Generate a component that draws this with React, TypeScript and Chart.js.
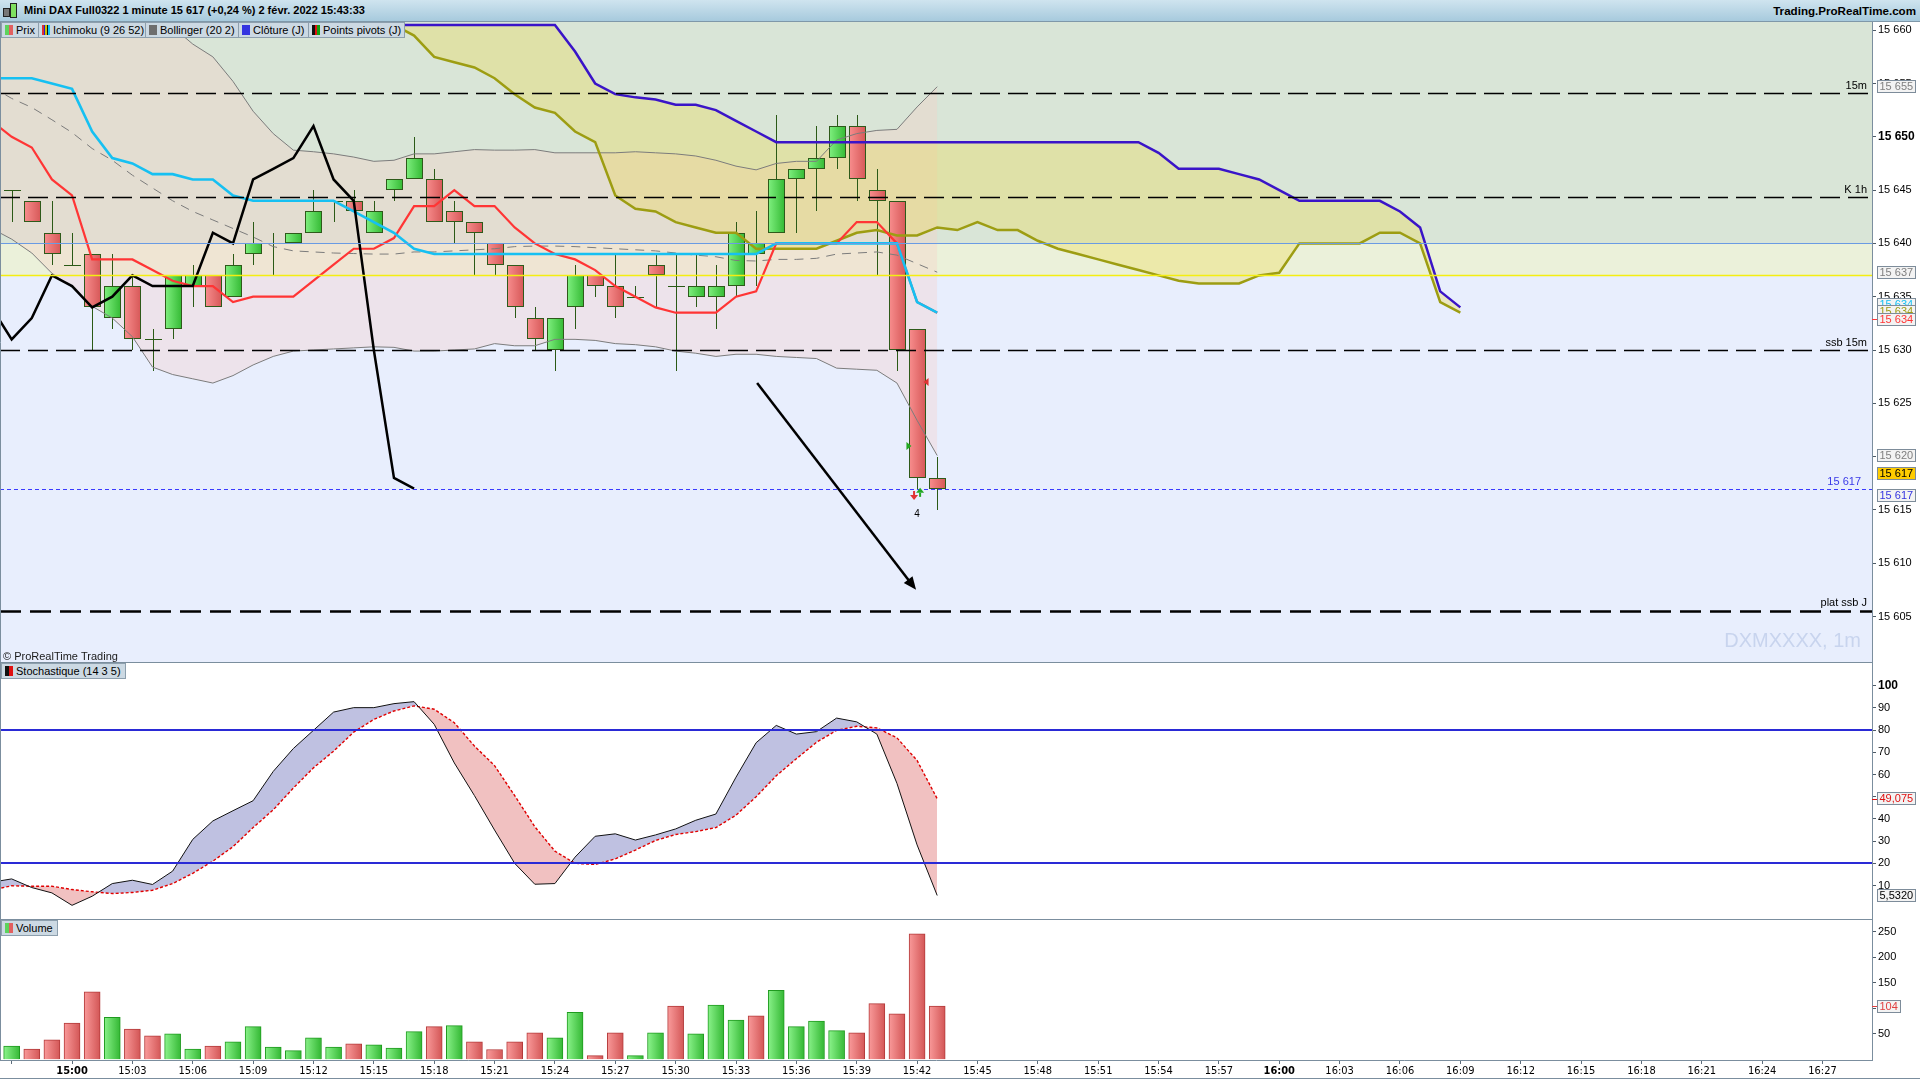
import React, { useEffect, useRef } from 'react';
import { Chart, registerables } from 'chart.js';

Chart.register(...registerables);

// ---------------- DATA ----------------
const BAR_TIMES = ['14:57','14:58','14:59','15:00','15:01','15:02','15:03','15:04','15:05','15:06','15:07','15:08','15:09','15:10','15:11','15:12','15:13','15:14','15:15','15:16','15:17','15:18','15:19','15:20','15:21','15:22','15:23','15:24','15:25','15:26','15:27','15:28','15:29','15:30','15:31','15:32','15:33','15:34','15:35','15:36','15:37','15:38','15:39','15:40','15:41','15:42','15:43'];
const OPEN = [15645,15644,15641,15638,15639,15633,15636,15631,15632,15636,15637,15635,15639,15640,15640,15641,15644,15644,15641,15645,15646,15646,15643,15642,15640,15638,15633,15630,15634,15637,15636,15635,15638,15636,15635,15635,15636,15639,15641,15646,15647,15648,15651,15645,15644,15632,15618];
const HIGH = [15645,15644,15644,15641,15639,15639,15637,15632,15637,15638,15637,15639,15642,15641,15641,15645,15644,15645,15644,15646,15650,15647,15644,15642,15640,15638,15634,15633,15638,15637,15639,15636,15639,15639,15639,15638,15642,15643,15652,15647,15651,15652,15652,15647,15644,15632,15620];
const LOW = [15642,15642,15638,15638,15630,15632,15630,15628,15631,15634,15634,15635,15638,15637,15640,15641,15642,15643,15641,15644,15646,15642,15640,15637,15637,15633,15630,15628,15632,15635,15633,15635,15634,15628,15634,15632,15635,15636,15641,15641,15643,15647,15644,15637,15628,15617,15615];
const CLOSE = [15645,15642,15639,15638,15634,15636,15631,15631,15637,15637,15634,15638,15640,15640,15641,15643,15644,15643,15643,15646,15648,15642,15642,15641,15638,15634,15631,15633,15637,15636,15634,15635,15637,15636,15636,15636,15641,15640,15646,15647,15648,15651,15646,15644,15630,15618,15617];
const VOLUME = [26,20,38,71,132,82,59,46,50,20,26,34,64,24,17,42,24,30,28,22,54,64,66,34,19,34,52,42,92,7,52,7,52,104,50,106,77,85,135,64,75,56,52,109,89,246,104];
const VOLUME_UP = [1,0,0,0,0,1,0,0,1,1,0,1,1,1,1,1,1,0,1,1,1,0,1,0,0,0,0,1,1,0,0,1,1,0,1,1,1,0,1,1,1,1,0,0,0,0,0];

const LINE_TIMES = ['14:56', ...BAR_TIMES];
const TENKAN = [15651.5,15650,15649,15646,15644.5,15638.5,15638.5,15638.5,15637.5,15636.5,15636,15636,15634.5,15635,15635,15635,15636.5,15638,15639.5,15639.5,15640.5,15643.5,15643.5,15645,15643.5,15643.5,15641.5,15640,15639,15638.5,15637.5,15636,15635,15634,15633.5,15633.5,15633.5,15635,15635.5,15640,15640,15640,15640,15642,15642,15640,15634.5,15633.5];
const KIJUN = [15655.5,15655.5,15655.5,15655,15654.5,15650.5,15648,15647.5,15646.5,15646.5,15646,15646,15644.5,15644,15644,15644,15644,15644,15643,15642,15641,15639.5,
  15639,15639,15639,15639,15639,15639,15639,15639,15639,15639,15639,15639,15639,15639,15639,15639,15639,
  15640,15640,15640,15640,15640,15640,15640,15634.5,15633.5];
const BB_UPPER = [15668,15666.8,15666.4,15666,15664.9,15663.7,15662.6,15661.6,15662,15660.3,15658.7,15657.5,15655.2,15652.4,15650.3,15648.75,15648.6,15648.4,15648.1,15647.7,15647.8,15648.4,15648.4,15648.6,15648.8,15648.75,15648.75,15648.8,15648.5,15648.5,15648.5,15648.5,15648.6,15648.5,15648.4,15648.2,15647.8,15647.25,15646.9,15647.5,15647.7,15647.7,15649.7,15650.3,15650.6,15650.7,15652.8,15654.7];
const BB_MIDDLE = [15654.7,15653.6,15652.75,15651.6,15650.4,15648.9,15647.8,15646.4,15645.2,15644,15643,15642.2,15641.4,15640.6,15639.7,15639.3,15639.2,15639.1,15639.05,15639,15639,15639.2,15639.2,15639.3,15639.4,15639.5,15639.7,15639.75,15639.75,15639.7,15639.6,15639.5,15639.4,15639.3,15639.1,15638.9,15638.75,15638.4,15638.35,15638.5,15638.5,15638.6,15639,15639.1,15639.2,15638.9,15638.1,15637.3];
const BB_LOWER = [15641.4,15640.4,15639.1,15637.2,15635.9,15634.1,15633,15631.25,15628.4,15627.7,15627.3,15626.9,15627.6,15628.6,15629.4,15629.9,15630,15630.1,15630.2,15630.3,15630.25,15629.9,15629.9,15630,15630.1,15630.6,15630.4,15630.4,15631,15631,15630.9,15630.6,15630.5,15630.3,15629.9,15629.7,15629.4,15629.6,15629.6,15629.4,15629.3,15629.2,15628.3,15628.2,15628.1,15626.9,15623.4,15620.1];
const STOCH_K = [11.5,13,9.1,6.7,1.1,5.2,10.9,12.4,10.5,16.5,30.8,39.1,43.7,48.2,61.4,71.7,79.9,88.1,90.1,90.1,91.9,92.8,82.6,65.2,50.5,35,20,10.6,10.9,22.8,32.2,33.3,30.5,32.8,35.5,39.4,42.2,58.8,74.3,82.1,78.2,79.3,85.4,83.7,78.2,56,28.3,5.532];
const STOCH_D = [8,9.9,9.7,9.7,8.2,7.2,6.4,6.9,7.9,10.9,15.5,21,27.5,36.1,44.1,53.9,63,70.5,79.1,84.8,88.6,90.9,89.4,83.3,72.8,64,50.5,36.5,25.5,20,19.5,22,26,30.3,33,34.3,36.1,41.7,50,59.4,67.1,74.5,79.9,81.7,81,76.5,66.3,49.075];

const CLOUD_TIMES = ['15:15','15:16','15:17','15:18','15:19','15:20','15:21','15:22','15:23','15:24','15:25','15:26','15:27','15:28','15:29','15:30','15:31','15:32','15:33','15:34','15:35','15:36','15:37','15:38','15:39','15:40','15:41','15:42','15:43','15:44','15:45','15:46','15:47','15:48','15:49','15:50','15:51','15:52','15:53','15:54','15:55','15:56','15:57','15:58','15:59','16:00','16:01','16:02','16:03','16:04','16:05','16:06','16:07','16:08','16:09'];
const SENKOU_A = [15662,15660.5,15659.5,15657.5,15657,15656.5,15655.5,15654,15652.75,15652.25,15650.5,15649.5,15644.5,15643.25,15643,15642,15641.5,15641,15641,15639.5,15639.5,15639.5,15639.5,15640.25,15641,15641.25,15640.75,15640.75,15641.5,15641.25,15642,15641.25,15641.25,15640.25,15639.5,15639,15638.5,15638,15637.5,15637,15636.5,15636.25,15636.25,15636.25,15637,15637.25,15640,15640,15640,15640,15641,15641,15640,15634.5,15633.5];
const SENKOU_B = [15660.5,15660.5,15660.5,15660.5,15660.5,15660.5,15660.5,15660.5,15660.5,15660.5,15658,15655,15654,15653.7,15653.5,15653,15653,15652.5,15651.5,15650.5,
  15649.5,15649.5,15649.5,15649.5,15649.5,15649.5,15649.5,15649.5,15649.5,15649.5,15649.5,15649.5,15649.5,15649.5,15649.5,15649.5,15649.5,15649.5,15649.5,
  15648.5,15647,15647,15647,15646.5,15646,15645,15644,15644,15644,15644,15644,15643,15641.5,15635.5,15634];
const CHIKOU_SHIFT = 26;

const PRICE_TICKS = [15605,15610,15615,15620,15625,15630,15635,15640,15645,15650,15655,15660];
const STOCH_TICKS = [10,20,30,40,50,60,70,80,90,100];
const VOLUME_TICKS = [50,100,150,200,250];
const TIME_TICKS = ['14:57','15:00','15:03','15:06','15:09','15:12','15:15','15:18','15:21','15:24','15:27','15:30','15:33','15:36','15:39','15:42','15:45','15:48','15:51','15:54','15:57','16:00','16:03','16:06','16:09','16:12','16:15','16:18','16:21','16:24','16:27'];

const LEVELS = [
  { label: '15m', value: 15654.1, thick: false },
  { label: 'K 1h', value: 15644.4, thick: false },
  { label: 'ssb 15m', value: 15630, thick: false },
  { label: 'plat ssb J', value: 15605.5, thick: true },
];
const DAILY_CLOSE = 15640;
const PIVOT = 15637;
const LAST_PRICE = 15617;
const STOCH_BANDS = [80, 20];
const ARROW = { from: { t: 34.05, p: 15626.9 }, to: { t: 41.95, p: 15607.5 } };
const SIGNALS = [
  { t: 42.47, p: 15627, shape: 'left', color: '#e03434' },
  { t: 41.57, p: 15621, shape: 'right', color: '#22a822' },
  { t: 41.85, p: 15616.4, shape: 'down', color: '#e03434' },
  { t: 42.15, p: 15616.6, shape: 'up', color: '#22a822' },
];
const SIGNAL_COUNT = { t: 42.0, p: 15614.6, text: '4' };

// ---------------- STYLE ----------------
const FONT = "'Liberation Sans', Arial, sans-serif";
const NARROW = "'Liberation Sans Narrow', 'DejaVu Sans Condensed', 'Liberation Sans', sans-serif";
const X_MIN = -3.58, X_MAX = 89.46;
const PRICE_MIN = 15600.64, PRICE_MAX = 15660.77;
const STOCH_MIN = -5.5, STOCH_MAX = 110.2;
const VOL_MIN = -1.5, VOL_MAX = 273;
const AXIS_W = 48;
const FRAME = '#7b8e9e';
const ZONE_HIGH = '#d9e5d7', ZONE_MID = '#ebf1da', ZONE_LOW = '#e8eefd';
const BB_FILL = 'rgba(245,205,200,0.34)';
const CLOUD_FILL = 'rgba(240,214,60,0.30)';
const TENKAN_C = '#ff3535', KIJUN_C = '#16c0f2', SSA_C = '#9d9d12', SSB_C = '#3a14c8', BB_C = '#7c7c7c';
const LAVENDER = '#bfc1e1', PINK = '#f1c1c1';

const toMin = (s: string) => { const [h, m] = s.split(':').map(Number); return (h - 15) * 60 + m; };
const pts = (times: string[], vals: number[]) => times.map((t, i) => ({ x: toMin(t), y: vals[i] }));
const fmtPrice = (v: number) => { const r = Math.round(v); return `${Math.floor(r / 1000)} ${String(r % 1000).padStart(3, '0')}`; };
const lastOf = (a: number[]) => a[a.length - 1];
const ok = (...v: number[]) => v.every((n) => Number.isFinite(n));

function xScale(display: boolean): any {
  return {
    type: 'linear', min: X_MIN, max: X_MAX, display, offset: false,
    afterBuildTicks: (s: any) => { s.ticks = TIME_TICKS.map((t) => ({ value: toMin(t) })); },
    afterFit: (s: any) => { s.height = display ? 20 : 0; s.paddingLeft = 0; s.paddingRight = 0; },
    grid: { display: true, drawOnChartArea: false, drawTicks: true, tickLength: 4, color: '#5d6d7b', offset: false },
    border: { display: true, color: FRAME },
    ticks: {
      autoSkip: false, maxRotation: 0, minRotation: 0, padding: 1, color: '#000',
      font: (c: any) => ({ family: NARROW, size: 11, weight: c.tick && c.tick.value % 60 === 0 ? 'bold' : 'normal' }),
      callback: (_v: any, i: number) => (i === 0 ? '' : TIME_TICKS[i]),
    },
  };
}

function yScale(min: number, max: number, ticks: number[], fmt: (v: number) => string, boldAt: (v: number) => boolean): any {
  return {
    type: 'linear', position: 'right', min, max,
    afterBuildTicks: (s: any) => { s.ticks = ticks.map((v) => ({ value: v })); },
    afterFit: (s: any) => { s.width = AXIS_W; s.paddingTop = 0; s.paddingBottom = 0; },
    grid: { drawOnChartArea: false, drawTicks: true, tickLength: 4, color: '#4d5a66' },
    border: { display: true, color: FRAME },
    ticks: {
      autoSkip: false, padding: 2, color: '#000',
      font: (c: any) => {
        const b = c.tick && boldAt(c.tick.value);
        return { family: FONT, size: b ? 12 : 11, weight: b ? 'bold' : 'normal' };
      },
      callback: (v: any) => fmt(Number(v)),
    },
  };
}

function baseOptions(y: any, xDisplay: boolean): any {
  return {
    responsive: false, maintainAspectRatio: false, animation: false, devicePixelRatio: 1, events: [],
    layout: { padding: 0 },
    plugins: {
      legend: { display: false }, tooltip: { enabled: false },
      filler: { drawTime: 'beforeDatasetsDraw', propagate: false },
    },
    elements: { point: { radius: 0 }, line: { tension: 0 } },
    scales: { x: xScale(xDisplay), y },
  };
}

function axisBox(ctx: any, chart: any, yPix: number, text: string, color: string, bg = '#f3f3f3', tick?: string) {
  const a = chart.chartArea;
  if (!ok(yPix)) return;
  ctx.save();
  ctx.font = `11px ${FONT}`;
  const w = Math.ceil(ctx.measureText(text).width) + 5;
  const x0 = a.right + 5;
  const h = 13;
  const top = Math.round(yPix - h / 2);
  if (tick) {
    ctx.strokeStyle = tick; ctx.lineWidth = 1;
    ctx.beginPath(); ctx.moveTo(a.right, Math.round(yPix) + 0.5); ctx.lineTo(x0, Math.round(yPix) + 0.5); ctx.stroke();
  }
  ctx.fillStyle = bg; ctx.fillRect(x0, top, w, h);
  ctx.strokeStyle = '#7d8c9a'; ctx.lineWidth = 1; ctx.strokeRect(x0 + 0.5, top + 0.5, w - 1, h - 1);
  ctx.fillStyle = color; ctx.textAlign = 'left'; ctx.textBaseline = 'middle';
  ctx.fillText(text, x0 + 2.5, top + h / 2 + 0.5);
  ctx.restore();
}

function bottomBorder(ctx: any, chart: any) {
  const a = chart.chartArea;
  ctx.save(); ctx.strokeStyle = FRAME; ctx.lineWidth = 1;
  ctx.beginPath(); ctx.moveTo(0, a.bottom - 0.5); ctx.lineTo(a.right, a.bottom - 0.5);
  ctx.moveTo(0.5, 0); ctx.lineTo(0.5, a.bottom); ctx.stroke();
  ctx.restore();
}

const pricePlugin: any = {
  id: 'priceDecor',
  beforeDraw(chart: any) {
    const { ctx, chartArea: a, scales: { y } } = chart;
    const yc = y.getPixelForValue(DAILY_CLOSE), yp = y.getPixelForValue(PIVOT);
    if (!ok(yc, yp)) return;
    ctx.save();
    ctx.fillStyle = ZONE_HIGH; ctx.fillRect(a.left, a.top, a.width, yc - a.top);
    ctx.fillStyle = ZONE_MID; ctx.fillRect(a.left, yc, a.width, yp - yc);
    ctx.fillStyle = ZONE_LOW; ctx.fillRect(a.left, yp, a.width, a.bottom - yp);
    ctx.restore();
  },
  beforeDatasetsDraw(chart: any) {
    const { ctx, chartArea: a, scales: { x, y } } = chart;
    ctx.save();
    ctx.beginPath(); ctx.rect(a.left, a.top, a.width, a.height); ctx.clip();
    ctx.font = `20px ${FONT}`; ctx.fillStyle = '#c8d4ee'; ctx.textAlign = 'right'; ctx.textBaseline = 'alphabetic';
    ctx.fillText('DXMXXXX, 1m', a.right - 11, a.bottom - 16);
    ctx.font = `11px ${FONT}`; ctx.fillStyle = '#1a1a1a'; ctx.textAlign = 'left';
    ctx.fillText('\u00A9 ProRealTime Trading', a.left + 3, a.bottom - 3);
    BAR_TIMES.forEach((t, i) => {
      const cx = Math.round(x.getPixelForValue(toMin(t)));
      const yo = y.getPixelForValue(OPEN[i]), yc = y.getPixelForValue(CLOSE[i]);
      const yh = y.getPixelForValue(HIGH[i]), yl = y.getPixelForValue(LOW[i]);
      if (!ok(cx, yo, yc, yh, yl)) return;
      ctx.strokeStyle = '#2b5a16'; ctx.lineWidth = 1;
      ctx.beginPath(); ctx.moveTo(cx + 0.5, Math.round(yh)); ctx.lineTo(cx + 0.5, Math.round(yl)); ctx.stroke();
      const left = cx - 8, w = 17;
      const top = Math.round(Math.min(yo, yc)), bot = Math.round(Math.max(yo, yc));
      if (bot - top < 2) {
        ctx.beginPath(); ctx.moveTo(left, top + 0.5); ctx.lineTo(left + w, top + 0.5); ctx.stroke();
        return;
      }
      const up = CLOSE[i] > OPEN[i];
      const g = ctx.createLinearGradient(left, 0, left + w, 0);
      if (up) { g.addColorStop(0, '#80f080'); g.addColorStop(1, '#33b933'); }
      else { g.addColorStop(0, '#f88e8e'); g.addColorStop(1, '#d65757'); }
      ctx.fillStyle = g; ctx.fillRect(left, top, w, bot - top);
      ctx.strokeStyle = '#2e5a1a'; ctx.strokeRect(left + 0.5, top + 0.5, w - 1, bot - top - 1);
    });
    ctx.restore();
  },
  afterDatasetsDraw(chart: any) {
    const { ctx, chartArea: a, scales: { x, y } } = chart;
    ctx.save();
    ctx.beginPath(); ctx.rect(a.left, a.top, a.width, a.height); ctx.clip();
    const hline = (v: number, color: string, width: number, dash: number[], x1 = a.right) => {
      const py = Math.round(y.getPixelForValue(v)) + (width % 2 ? 0.5 : 0);
      ctx.strokeStyle = color; ctx.lineWidth = width; ctx.setLineDash(dash);
      ctx.beginPath(); ctx.moveTo(a.left, py); ctx.lineTo(x1, py); ctx.stroke();
      ctx.setLineDash([]);
      return py;
    };
    hline(DAILY_CLOSE, '#6a9be3', 1, []);
    hline(PIVOT, '#f4ee10', 1.5, []);
    ctx.font = `11px ${FONT}`; ctx.textAlign = 'right'; ctx.textBaseline = 'bottom';
    LEVELS.forEach((l) => {
      const py = hline(l.value, '#000', l.thick ? 2.5 : 1.3, l.thick ? [21, 9] : [20, 8], l.thick ? a.right : a.right - 4);
      ctx.fillStyle = '#000';
      ctx.fillText(l.label, a.right - 5, py - (l.thick ? 3 : 2));
    });
    const pl = hline(LAST_PRICE, '#3a3aff', 1, [4, 3]);
    ctx.fillStyle = '#3a3ae8';
    ctx.fillText(fmtPrice(LAST_PRICE), a.right - 11, pl - 2);
    const x0 = x.getPixelForValue(ARROW.from.t), y0 = y.getPixelForValue(ARROW.from.p);
    const x1 = x.getPixelForValue(ARROW.to.t), y1 = y.getPixelForValue(ARROW.to.p);
    if (ok(x0, y0, x1, y1)) {
      const ang = Math.atan2(y1 - y0, x1 - x0);
      ctx.strokeStyle = '#000'; ctx.lineWidth = 2.5;
      ctx.beginPath(); ctx.moveTo(x0, y0); ctx.lineTo(x1 - 8 * Math.cos(ang), y1 - 8 * Math.sin(ang)); ctx.stroke();
      ctx.fillStyle = '#000';
      ctx.beginPath(); ctx.moveTo(x1, y1);
      ctx.lineTo(x1 - 13 * Math.cos(ang) + 5.5 * Math.sin(ang), y1 - 13 * Math.sin(ang) - 5.5 * Math.cos(ang));
      ctx.lineTo(x1 - 13 * Math.cos(ang) - 5.5 * Math.sin(ang), y1 - 13 * Math.sin(ang) + 5.5 * Math.cos(ang));
      ctx.closePath(); ctx.fill();
    }
    SIGNALS.forEach((s) => {
      const px = x.getPixelForValue(s.t), py = y.getPixelForValue(s.p);
      if (!ok(px, py)) return;
      ctx.fillStyle = s.color; ctx.strokeStyle = s.color; ctx.lineWidth = 2;
      ctx.beginPath();
      if (s.shape === 'left') { ctx.moveTo(px - 3, py); ctx.lineTo(px + 2, py - 4); ctx.lineTo(px + 2, py + 4); }
      else if (s.shape === 'right') { ctx.moveTo(px + 3, py); ctx.lineTo(px - 2, py - 4); ctx.lineTo(px - 2, py + 4); }
      else if (s.shape === 'down') { ctx.moveTo(px, py + 5); ctx.lineTo(px - 4, py); ctx.lineTo(px + 4, py); }
      else { ctx.moveTo(px, py - 5); ctx.lineTo(px - 4, py); ctx.lineTo(px + 4, py); }
      ctx.closePath(); ctx.fill();
      ctx.beginPath();
      if (s.shape === 'down') { ctx.moveTo(px, py); ctx.lineTo(px, py - 4); ctx.stroke(); }
      if (s.shape === 'up') { ctx.moveTo(px, py); ctx.lineTo(px, py + 4); ctx.stroke(); }
    });
    ctx.fillStyle = '#000'; ctx.textAlign = 'center'; ctx.textBaseline = 'middle'; ctx.font = `10px ${FONT}`;
    ctx.fillText(SIGNAL_COUNT.text, x.getPixelForValue(SIGNAL_COUNT.t), y.getPixelForValue(SIGNAL_COUNT.p));
    ctx.restore();
  },
  afterDraw(chart: any) {
    const { ctx, scales: { y } } = chart;
    const py = (v: number) => y.getPixelForValue(v);
    axisBox(ctx, chart, py(lastOf(BB_UPPER)), fmtPrice(lastOf(BB_UPPER)), '#7f7f7f');
    axisBox(ctx, chart, py(lastOf(BB_MIDDLE)), fmtPrice(lastOf(BB_MIDDLE)), '#7f7f7f');
    axisBox(ctx, chart, py(lastOf(KIJUN)) - 8, fmtPrice(lastOf(KIJUN)), KIJUN_C);
    axisBox(ctx, chart, py(lastOf(SENKOU_A)) - 1, fmtPrice(lastOf(SENKOU_A)), SSA_C);
    axisBox(ctx, chart, py(lastOf(TENKAN)) + 6.5, fmtPrice(lastOf(TENKAN)), TENKAN_C, '#f3f3f3', TENKAN_C);
    axisBox(ctx, chart, py(lastOf(BB_LOWER)), fmtPrice(lastOf(BB_LOWER)), '#7f7f7f');
    axisBox(ctx, chart, py(lastOf(CLOSE)) - 15.5, fmtPrice(lastOf(CLOSE)), '#000', '#ffcc00');
    axisBox(ctx, chart, py(LAST_PRICE) + 6.5, fmtPrice(LAST_PRICE), '#3535e0');
    bottomBorder(ctx, chart);
  },
};

const stochPlugin: any = {
  id: 'stochDecor',
  afterDatasetsDraw(chart: any) {
    const { ctx, chartArea: a, scales: { y } } = chart;
    ctx.save(); ctx.strokeStyle = '#2a2ad6'; ctx.lineWidth = 2;
    STOCH_BANDS.forEach((v) => {
      const py = Math.round(y.getPixelForValue(v));
      if (!ok(py)) return;
      ctx.beginPath(); ctx.moveTo(a.left, py); ctx.lineTo(a.right, py); ctx.stroke();
    });
    ctx.restore();
  },
  afterDraw(chart: any) {
    const { ctx, scales: { y } } = chart;
    const d = lastOf(STOCH_D), k = lastOf(STOCH_K);
    axisBox(ctx, chart, y.getPixelForValue(d), d.toFixed(3).replace('.', ','), '#e01010', '#f3f3f3', '#e01010');
    axisBox(ctx, chart, y.getPixelForValue(k), k.toFixed(4).replace('.', ','), '#000');
    bottomBorder(ctx, chart);
  },
};

const volPlugin: any = {
  id: 'volDecor',
  afterDraw(chart: any) {
    const { ctx, scales: { y } } = chart;
    const v = lastOf(VOLUME);
    axisBox(ctx, chart, y.getPixelForValue(v), String(v), '#e04040', '#f3f3f3', '#e04040');
    const a = chart.chartArea;
    ctx.save(); ctx.strokeStyle = FRAME; ctx.lineWidth = 1;
    ctx.beginPath(); ctx.moveTo(0.5, 0); ctx.lineTo(0.5, a.bottom);
    ctx.moveTo(0, chart.height - 1.5); ctx.lineTo(chart.width, chart.height - 1.5); ctx.stroke();
    ctx.restore();
  },
};

const volColor = (c: any) => {
  const i = c.dataIndex;
  const up = VOLUME_UP[i] === 1;
  const flat = up ? '#5fd85f' : '#e57373';
  if (c.type !== 'data' || i == null) return flat;
  const chart = c.chart; const xs = chart && chart.scales && chart.scales.x;
  if (!xs) return flat;
  const cx = Math.round(xs.getPixelForValue(toMin(BAR_TIMES[i])));
  if (!ok(cx)) return flat;
  const g = chart.ctx.createLinearGradient(cx - 8, 0, cx + 8, 0);
  if (up) { g.addColorStop(0, '#8af28a'); g.addColorStop(1, '#34b834'); }
  else { g.addColorStop(0, '#f99a9a'); g.addColorStop(1, '#d35656'); }
  return g;
};

function line(data: any[], color: string, width: number, order: number, extra: any = {}) {
  return { data, borderColor: color, borderWidth: width, order, pointRadius: 0, fill: false, clip: 0, tension: 0, ...extra };
}

export default function App() {
  const priceRef = useRef<HTMLCanvasElement>(null);
  const stochRef = useRef<HTMLCanvasElement>(null);
  const volRef = useRef<HTMLCanvasElement>(null);

  useEffect(() => {
    const charts: any[] = [];
    const chikou = BAR_TIMES.map((t, i) => ({ x: toMin(t) - CHIKOU_SHIFT, y: CLOSE[i] }));
    charts.push(new Chart(priceRef.current as any, {
      type: 'line',
      data: {
        datasets: [
          line(chikou, '#000', 2.5, 0),
          line(pts(LINE_TIMES, KIJUN), KIJUN_C, 2.6, 1),
          line(pts(LINE_TIMES, TENKAN), TENKAN_C, 2.2, 2),
          line(pts(CLOUD_TIMES, SENKOU_B), SSB_C, 2.5, 3),
          line(pts(CLOUD_TIMES, SENKOU_A), SSA_C, 2.5, 4, { fill: { target: 3, above: CLOUD_FILL, below: CLOUD_FILL } }),
          line(pts(LINE_TIMES, BB_UPPER), BB_C, 1, 5, { fill: { target: 7, above: BB_FILL, below: BB_FILL } }),
          line(pts(LINE_TIMES, BB_MIDDLE), BB_C, 1, 6, { borderDash: [9, 7] }),
          line(pts(LINE_TIMES, BB_LOWER), BB_C, 1, 7),
        ],
      },
      options: baseOptions(yScale(PRICE_MIN, PRICE_MAX, PRICE_TICKS, fmtPrice, (v) => v % 50 === 0), false),
      plugins: [pricePlugin],
    } as any));

    charts.push(new Chart(stochRef.current as any, {
      type: 'line',
      data: {
        datasets: [
          line(pts(LINE_TIMES, STOCH_K), '#111', 1, 0, { fill: { target: 1, above: LAVENDER, below: PINK } }),
          line(pts(LINE_TIMES, STOCH_D), '#e00000', 1.4, 1, { borderDash: [3, 2] }),
        ],
      },
      options: baseOptions(yScale(STOCH_MIN, STOCH_MAX, STOCH_TICKS, (v) => String(v), (v) => v === 100), false),
      plugins: [stochPlugin],
    } as any));

    charts.push(new Chart(volRef.current as any, {
      type: 'bar',
      data: {
        datasets: [{
          data: pts(BAR_TIMES, VOLUME),
          backgroundColor: volColor,
          borderColor: (c: any) => (VOLUME_UP[c.dataIndex] === 1 ? '#1f9a1f' : '#b33a3a'),
          borderWidth: 1, barThickness: 16, borderSkipped: 'bottom', grouped: false,
        }],
      },
      options: baseOptions(yScale(VOL_MIN, VOL_MAX, VOLUME_TICKS, (v) => String(v), () => false), true),
      plugins: [volPlugin],
    } as any));

    return () => { charts.forEach((c) => c.destroy()); };
  }, []);

  const legendBox = (w: number, icon: string, text: string) => (
    <div key={text} style={{
      width: w, height: 16, boxSizing: 'border-box', border: '1px solid #8d9fad', background: '#ccd9e3',
      display: 'flex', alignItems: 'center', paddingLeft: 3, marginRight: -1, fontFamily: FONT, fontSize: 11,
      color: '#000', whiteSpace: 'nowrap', overflow: 'hidden',
    }}>
      <span style={{ display: 'inline-block', width: 8, height: 10, background: icon, marginRight: 3, flex: 'none' }} />
      {text}
    </div>
  );

  return (
    <div style={{ position: 'fixed', left: 0, top: 0, width: 1920, height: 1080, background: '#fff', overflow: 'hidden', fontFamily: FONT }}>
      <div style={{ position: 'absolute', left: 0, top: 0, width: 1920, height: 22, boxSizing: 'border-box', background: 'linear-gradient(#cfe4ef, #a7cadd)', borderBottom: '1px solid #7f98a9' }}>
        <span style={{ position: 'absolute', left: 3, top: 8, width: 5, height: 7, border: '1px solid #222', background: '#777' }} />
        <span style={{ position: 'absolute', left: 10, top: 3, width: 5, height: 13, border: '1px solid #222', background: '#7fe060' }} />
        <span style={{ position: 'absolute', left: 24, top: 4, fontSize: 11, fontWeight: 'bold', lineHeight: '13px', color: '#000' }}>Mini DAX Full0322 1 minute 15 617 (+0,24 %) 2 févr. 2022 15:43:33</span>
        <span style={{ position: 'absolute', right: 4, top: 4, fontSize: 11.6, fontWeight: 'bold', lineHeight: '13px', color: '#000' }}>Trading.ProRealTime.com</span>
      </div>
      <canvas ref={priceRef} width={1920} height={641} style={{ position: 'absolute', left: 0, top: 22, display: 'block' }} />
      <canvas ref={stochRef} width={1920} height={257} style={{ position: 'absolute', left: 0, top: 663, display: 'block' }} />
      <canvas ref={volRef} width={1920} height={160} style={{ position: 'absolute', left: 0, top: 920, display: 'block' }} />
      <div style={{ position: 'absolute', left: 1, top: 22, display: 'flex' }}>
        {legendBox(38, 'linear-gradient(90deg,#5dd35d 50%,#e26060 50%)', 'Prix')}
        {legendBox(108, 'linear-gradient(90deg,#e03030 20%,#2020d0 20% 40%,#c8c000 40% 60%,#101010 60% 80%,#16c0f2 80%)', 'Ichimoku (9 26 52)')}
        {legendBox(94, '#6e6e6e', 'Bollinger (20 2)')}
        {legendBox(71, '#3535e0', 'Clôture (J)')}
        {legendBox(97, 'linear-gradient(90deg,#101010 33%,#e01010 33% 66%,#10a010 66%)', 'Points pivots (J)')}
      </div>
      <div style={{ position: 'absolute', left: 1, top: 663, display: 'flex' }}>
        {legendBox(125, 'linear-gradient(90deg,#101010 50%,#e01010 50%)', 'Stochastique (14 3 5)')}
      </div>
      <div style={{ position: 'absolute', left: 1, top: 920, display: 'flex' }}>
        {legendBox(57, 'linear-gradient(90deg,#5dd35d 50%,#e26060 50%)', 'Volume')}
      </div>
    </div>
  );
}
